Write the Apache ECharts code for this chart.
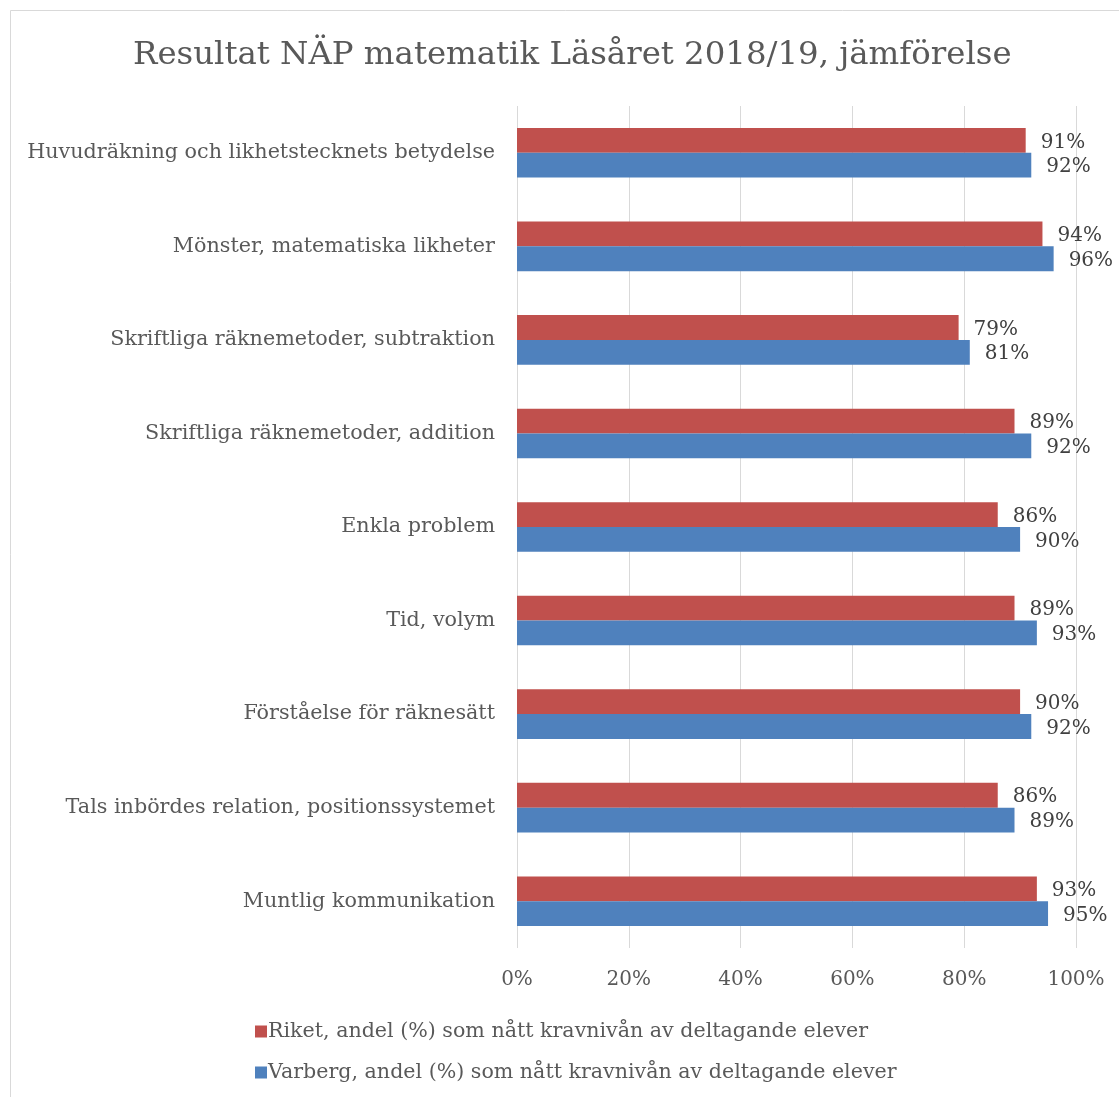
<!DOCTYPE html>
<html>
<head>
<meta charset="utf-8">
<script src="https://cdn.jsdelivr.net/npm/echarts@6/dist/echarts.min.js"></script>
<style>
  html, body { margin: 0; padding: 0; background: #ffffff; }
  #chart { width: 1119px; height: 1097px; }
</style>
</head>
<body>
<div id="chart"></div>
<script>
// Assessment areas, listed top to bottom
const categories = [
  'Huvudräkning och likhetstecknets betydelse',
  'Mönster, matematiska likheter',
  'Skriftliga räknemetoder, subtraktion',
  'Skriftliga räknemetoder, addition',
  'Enkla problem',
  'Tid, volym',
  'Förståelse för räknesätt',
  'Tals inbördes relation, positionssystemet',
  'Muntlig kommunikation'
];

// Share of participating pupils (%) reaching the required level
const riketValues   = [91, 94, 79, 89, 86, 89, 90, 86, 93];
const varbergValues = [92, 96, 81, 92, 90, 93, 92, 89, 95];

const seriesNames = [
  'Riket, andel (%) som nått kravnivån av deltagande elever',
  'Varberg, andel (%) som nått kravnivån av deltagande elever'
];

const xTicks = [0, 20, 40, 60, 80, 100];

const FONT = '"DejaVu Serif", serif';
const TEXT = '#595959';

const chart = echarts.init(document.getElementById('chart'), null, { renderer: 'canvas' });

const labelStyle = {
  show: true,
  position: 'right',
  distance: 15,
  color: '#404040',
  fontFamily: FONT,
  fontSize: 20,
  offset: [0, 2],
  formatter: p => p.value + '%'
};

chart.setOption({
  backgroundColor: '#ffffff',
  animation: false,
  title: {
    text: 'Resultat NÄP matematik Läsåret 2018/19, jämförelse',
    left: 128,
    top: 35,
    textStyle: { fontFamily: FONT, fontSize: 32.4, fontWeight: 'normal', color: TEXT }
  },
  graphic: [{
    type: 'rect',
    shape: { x: 10.5, y: 10.5, width: 1300, height: 1300 },
    style: { fill: 'none', stroke: '#d9d9d9', lineWidth: 1 },
    silent: true
  }],
  legend: {
    orient: 'vertical',
    left: 250,
    top: 1016,
    itemWidth: 12,
    itemHeight: 12,
    itemGap: 20,
    icon: 'rect',
    textStyle: { fontFamily: FONT, fontSize: 20.6, color: TEXT, padding: [0, 0, 0, -4] },
    data: seriesNames
  },
  grid: { left: 517, right: 43, top: 106, bottom: 149, containLabel: false },
  xAxis: {
    type: 'value',
    min: xTicks[0],
    max: xTicks[xTicks.length - 1],
    interval: 20,
    axisLine: { show: false },
    axisTick: { show: false },
    splitLine: { lineStyle: { color: '#d9d9d9', width: 1 } },
    axisLabel: {
      margin: 22,
      color: TEXT,
      fontFamily: FONT,
      fontSize: 20,
      formatter: v => v + '%'
    }
  },
  yAxis: {
    type: 'category',
    inverse: true,
    data: categories,
    axisLine: { show: false },
    axisTick: { show: false },
    axisLabel: { margin: 22, color: TEXT, fontFamily: FONT, fontSize: 20.7 }
  },
  series: [
    {
      name: seriesNames[0],
      type: 'bar',
      data: riketValues,
      barGap: '0%',
      barCategoryGap: '47%',
      itemStyle: { color: '#C0504D' },
      label: labelStyle
    },
    {
      name: seriesNames[1],
      type: 'bar',
      data: varbergValues,
      barGap: '0%',
      barCategoryGap: '47%',
      itemStyle: { color: '#4F81BD' },
      label: labelStyle
    }
  ]
});
</script>
</body>
</html>
